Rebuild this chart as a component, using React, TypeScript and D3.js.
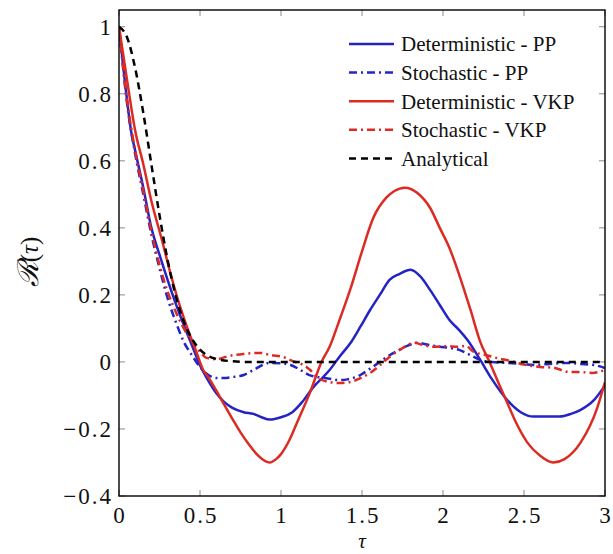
import * as d3 from "d3"

// tau sample points and correlation values
const tauDetPP = [0, 0.05, 0.074, 0.1, 0.15, 0.2, 0.25, 0.3, 0.357, 0.4, 0.45, 0.5, 0.55, 0.6, 0.65, 0.7, 0.77, 0.83, 0.88, 0.93, 1.0, 1.07, 1.13, 1.2, 1.26, 1.3, 1.36, 1.43, 1.49, 1.55, 1.61, 1.67, 1.73, 1.8, 1.86, 1.92, 1.98, 2.04, 2.1, 2.15, 2.23, 2.3, 2.395, 2.48, 2.56, 2.64, 2.72, 2.79, 2.85, 2.93, 3.0]
const detPP = [1, 0.78, 0.69, 0.63, 0.52, 0.4, 0.32, 0.245, 0.165, 0.11, 0.05, -0.01, -0.055, -0.093, -0.12, -0.137, -0.15, -0.155, -0.165, -0.172, -0.165, -0.15, -0.12, -0.075, -0.045, -0.024, 0.015, 0.057, 0.105, 0.155, 0.2, 0.245, 0.262, 0.275, 0.255, 0.215, 0.17, 0.125, 0.095, 0.066, 0.006, -0.05, -0.113, -0.15, -0.163, -0.163, -0.163, -0.155, -0.143, -0.115, -0.07]

const tauStoPP = [0, 0.05, 0.1, 0.15, 0.2, 0.25, 0.3, 0.35, 0.4, 0.45, 0.5, 0.55, 0.6, 0.65, 0.7, 0.77, 0.83, 0.93, 1.0, 1.06, 1.12, 1.18, 1.24, 1.3, 1.36, 1.41, 1.49, 1.55, 1.61, 1.67, 1.73, 1.8, 1.84, 1.9, 1.98, 2.04, 2.1, 2.17, 2.23, 2.3, 2.4, 2.48, 2.56, 2.66, 2.77, 2.85, 2.93, 3.0]
const stoPP = [1, 0.77, 0.62, 0.5, 0.38, 0.28, 0.19, 0.12, 0.06, 0.02, -0.015, -0.038, -0.048, -0.048, -0.045, -0.039, -0.024, -0.003, -0.004, -0.009, -0.024, -0.04, -0.046, -0.05, -0.054, -0.052, -0.039, -0.02, 0.0, 0.02, 0.036, 0.052, 0.057, 0.052, 0.045, 0.042, 0.036, 0.02, 0.006, 0.0, -0.003, -0.006, -0.009, -0.006, -0.003, -0.006, -0.009, -0.018]

const tauDetVKP = [0, 0.05, 0.1, 0.15, 0.2, 0.265, 0.32, 0.377, 0.43, 0.47, 0.52, 0.55, 0.6, 0.65, 0.7, 0.75, 0.8, 0.85, 0.9, 0.93, 0.97, 1.0, 1.055, 1.1, 1.18, 1.25, 1.3, 1.35, 1.43, 1.5, 1.57, 1.65, 1.7, 1.765, 1.84, 1.92, 1.98, 2.04, 2.1, 2.17, 2.23, 2.29, 2.34, 2.395, 2.45, 2.52, 2.6, 2.68, 2.75, 2.85, 2.95, 3.0]
const detVKP = [1, 0.84, 0.69, 0.59, 0.48, 0.364, 0.26, 0.165, 0.09, 0.04, -0.024, -0.045, -0.085, -0.128, -0.17, -0.21, -0.245, -0.275, -0.295, -0.3, -0.29, -0.275, -0.23, -0.18, -0.09, 0.0, 0.045, 0.11, 0.22, 0.33, 0.43, 0.49, 0.51, 0.52, 0.505, 0.46, 0.4, 0.34, 0.26, 0.155, 0.06, -0.003, -0.06, -0.12, -0.18, -0.24, -0.28, -0.3, -0.29, -0.24, -0.14, -0.06]

const tauStoVKP = [0, 0.05, 0.1, 0.15, 0.2, 0.25, 0.3, 0.35, 0.4, 0.45, 0.5, 0.54, 0.6, 0.68, 0.77, 0.87, 0.94, 1.01, 1.07, 1.12, 1.18, 1.22, 1.3, 1.36, 1.43, 1.49, 1.55, 1.61, 1.67, 1.74, 1.82, 1.88, 1.94, 2.02, 2.09, 2.14, 2.19, 2.27, 2.33, 2.39, 2.45, 2.52, 2.6, 2.68, 2.78, 2.85, 2.92, 3.0]
const stoVKP = [1, 0.78, 0.63, 0.51, 0.39, 0.29, 0.21, 0.15, 0.1, 0.06, 0.03, 0.012, 0.008, 0.018, 0.024, 0.027, 0.02, 0.015, 0.003, -0.005, -0.024, -0.045, -0.06, -0.063, -0.06, -0.048, -0.033, -0.01, 0.015, 0.038, 0.057, 0.05, 0.045, 0.047, 0.045, 0.048, 0.03, 0.02, 0.012, 0.006, -0.002, -0.01, -0.015, -0.017, -0.03, -0.03, -0.033, -0.024]

const tauAnalytical = [0, 0.05, 0.1, 0.15, 0.2, 0.25, 0.3, 0.35, 0.4, 0.45, 0.5, 0.55, 0.6, 0.7, 0.8, 1.0, 1.5, 2.0, 2.5, 3.0]
const analytical = [1, 0.968, 0.876, 0.743, 0.589, 0.438, 0.304, 0.198, 0.121, 0.069, 0.037, 0.018, 0.009, 0.002, 0, 0, 0, 0, 0, 0]

const xTicks = [0, 0.5, 1, 1.5, 2, 2.5, 3]
const yTicks = [-0.4, -0.2, 0, 0.2, 0.4, 0.6, 0.8, 1]

const BLUE = "#2424c6"
const RED = "#dc2b23"
const DASHDOT = "8,4,2,4"
const DASHED = "7,5"

const series = [
  { label: "Deterministic - PP", tau: tauDetPP, values: detPP, color: BLUE, dash: "" },
  { label: "Stochastic - PP", tau: tauStoPP, values: stoPP, color: BLUE, dash: DASHDOT },
  { label: "Deterministic - VKP", tau: tauDetVKP, values: detVKP, color: RED, dash: "" },
  { label: "Stochastic - VKP", tau: tauStoVKP, values: stoVKP, color: RED, dash: DASHDOT },
  { label: "Analytical", tau: tauAnalytical, values: analytical, color: "#000", dash: DASHED },
]

export default function App() {
  const width = 613
  const height = 554
  const left = 119
  const right = 605
  const top = 10
  const bottom = 496

  const x = d3.scaleLinear().domain([0, 3]).range([left, right])
  const y = d3.scaleLinear().domain([-0.4, 1.05]).range([bottom, top])

  const line = d3
    .line<[number, number]>()
    .x((d) => x(d[0]))
    .y((d) => y(d[1]))
    .curve(d3.curveMonotoneX)

  const fmt = (v: number) => (v < 0 ? "\u2212" + Math.abs(v) : String(Math.round(v * 10) / 10))
  const serif = { fontFamily: "'Liberation Serif', 'Times New Roman', Times, serif" }
  const tickLen = 6
  const tickFont = 23
  const tickSpacing = 2

  return (
    <svg width={width} height={height} style={{ position: "absolute", left: 0, top: 0, background: "#fff" }}>
      <defs>
        <clipPath id="plot-clip">
          <rect x={left} y={top} width={right - left} height={bottom - top} />
        </clipPath>
      </defs>

      {/* ticks, mirrored on all four sides */}
      {xTicks.map((t) => (
        <g key={"xt" + t} stroke="#8a8a8a" strokeWidth={1}>
          <line x1={x(t)} x2={x(t)} y1={bottom} y2={bottom - tickLen} />
          <line x1={x(t)} x2={x(t)} y1={top} y2={top + tickLen} />
        </g>
      ))}
      {yTicks.map((t) => (
        <g key={"yt" + t} stroke="#8a8a8a" strokeWidth={1}>
          <line x1={left} x2={left + tickLen} y1={y(t)} y2={y(t)} />
          <line x1={right} x2={right - tickLen} y1={y(t)} y2={y(t)} />
        </g>
      ))}

      <g clipPath="url(#plot-clip)">
        {series.map((s) => (
          <path
            key={s.label}
            d={line(s.tau.map((t, i) => [t, s.values[i]] as [number, number])) ?? ""}
            fill="none"
            stroke={s.color}
            strokeWidth={2.5}
            strokeDasharray={s.dash || undefined}
            strokeLinejoin="round"
          />
        ))}
      </g>

      <rect x={left} y={top} width={right - left} height={bottom - top} fill="none" stroke="#000" strokeWidth={1.4} />

      {/* tick labels */}
      {xTicks.map((t) => (
        <text
          key={"xl" + t}
          x={x(t) + tickSpacing / 2}
          y={bottom + 27}
          textAnchor="middle"
          fontSize={tickFont}
          letterSpacing={tickSpacing}
          fill="#111"
          style={serif}
        >
          {fmt(t)}
        </text>
      ))}
      {yTicks.map((t) => (
        <text
          key={"yl" + t}
          x={left - 8 + tickSpacing}
          y={y(t)}
          dy="0.35em"
          textAnchor="end"
          fontSize={tickFont}
          letterSpacing={tickSpacing}
          fill="#111"
          style={serif}
        >
          {fmt(t)}
        </text>
      ))}

      {/* axis labels */}
      <text x={(left + right) / 2} y={548} textAnchor="middle" fontSize={21} fontStyle="italic" fill="#111" style={serif}>
        τ
      </text>
      <text transform="translate(38, 262) rotate(-90)" textAnchor="middle" fontSize={25} fill="#111" style={serif}>
        <tspan fontStyle="italic" fontSize={29}>ℛ</tspan>
        <tspan>(</tspan>
        <tspan fontStyle="italic">τ</tspan>
        <tspan>)</tspan>
      </text>

      {/* legend */}
      {series.map((s, i) => {
        const ly = 44 + i * 28.6
        return (
          <g key={"lg" + s.label}>
            <line x1={349} x2={394} y1={ly} y2={ly} stroke={s.color} strokeWidth={2.5} strokeDasharray={s.dash || undefined} />
            <text x={401} y={ly} dy="0.35em" fontSize={21} fill="#111" style={serif}>
              {s.label}
            </text>
          </g>
        )
      })}
    </svg>
  )
}
